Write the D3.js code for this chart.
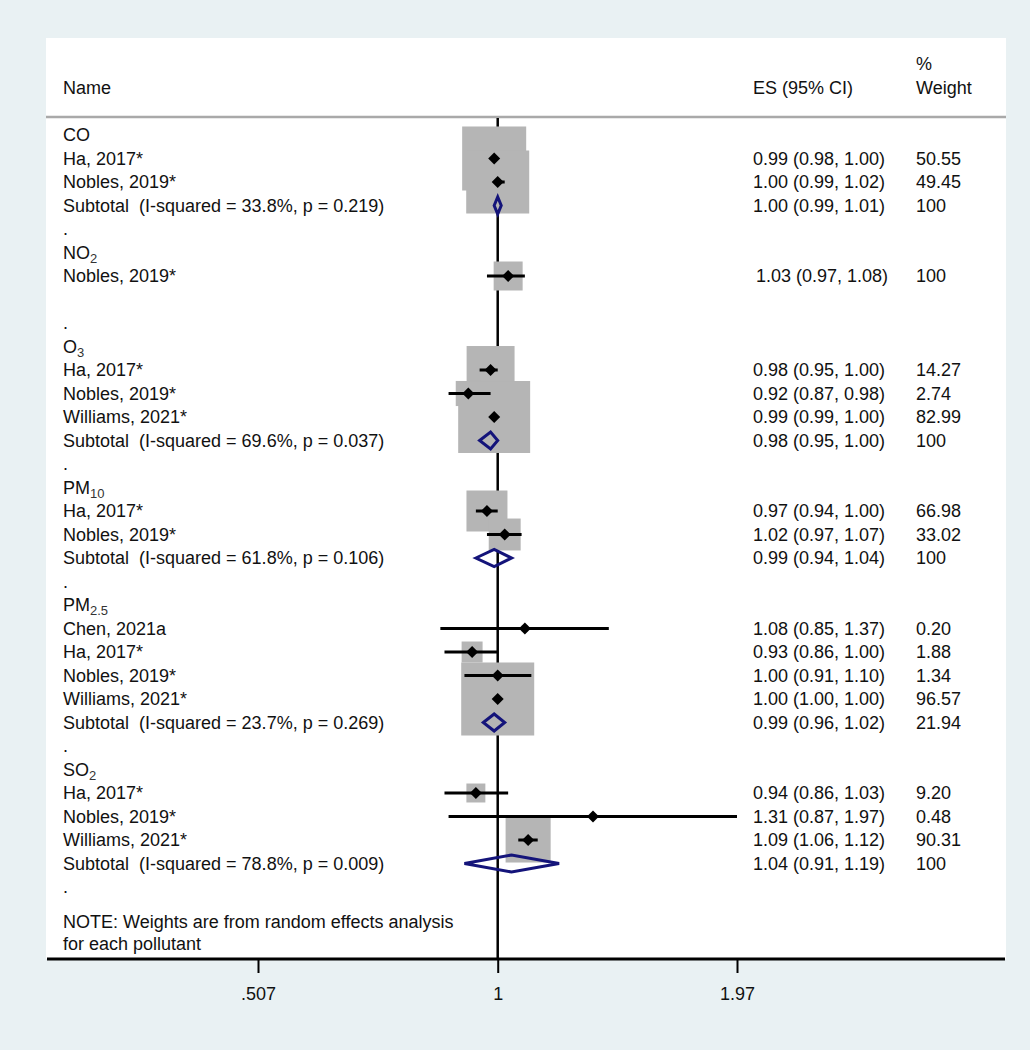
<!DOCTYPE html>
<html>
<head>
<meta charset="utf-8">
<script src="https://cdn.jsdelivr.net/npm/d3@7"></script>
<style>
  body { margin: 0; background: #e9f1f3; }
  svg { display: block; }
  text { font-family: 'Liberation Sans', Arial, sans-serif; font-size: 18px; fill: #111; white-space: pre; }
</style>
</head>
<body>
<div id="chart"></div>
<script>
// one entry per row of the plot, top to bottom
const rowKind = [
  'group', 'study', 'study', 'subtotal', 'dot',
  'group', 'study', 'blank', 'dot',
  'group', 'study', 'study', 'study', 'subtotal', 'dot',
  'group', 'study', 'study', 'subtotal', 'dot',
  'group', 'study', 'study', 'study', 'study', 'subtotal', 'dot',
  'group', 'study', 'study', 'study', 'subtotal', 'dot'
];
const rowLabel = [
  'CO', 'Ha, 2017*', 'Nobles, 2019*', 'Subtotal  (I-squared = 33.8%, p = 0.219)', '.',
  'NO', 'Nobles, 2019*', '', '.',
  'O', 'Ha, 2017*', 'Nobles, 2019*', 'Williams, 2021*', 'Subtotal  (I-squared = 69.6%, p = 0.037)', '.',
  'PM', 'Ha, 2017*', 'Nobles, 2019*', 'Subtotal  (I-squared = 61.8%, p = 0.106)', '.',
  'PM', 'Chen, 2021a', 'Ha, 2017*', 'Nobles, 2019*', 'Williams, 2021*', 'Subtotal  (I-squared = 23.7%, p = 0.269)', '.',
  'SO', 'Ha, 2017*', 'Nobles, 2019*', 'Williams, 2021*', 'Subtotal  (I-squared = 78.8%, p = 0.009)', '.'
];
const rowSub = [
  '', '', '', '', '',
  '2', '', '', '',
  '3', '', '', '', '', '',
  '10', '', '', '', '',
  '2.5', '', '', '', '', '', '',
  '2', '', '', '', '', ''
];
const rowEs = [
  null, 0.99, 1.00, 1.00, null,
  null, 1.03, null, null,
  null, 0.98, 0.92, 0.99, 0.98, null,
  null, 0.97, 1.02, 0.99, null,
  null, 1.08, 0.93, 1.00, 1.00, 0.99, null,
  null, 0.94, 1.31, 1.09, 1.04, null
];
const rowLo = [
  null, 0.98, 0.99, 0.99, null,
  null, 0.97, null, null,
  null, 0.95, 0.87, 0.99, 0.95, null,
  null, 0.94, 0.97, 0.94, null,
  null, 0.85, 0.86, 0.91, 1.00, 0.96, null,
  null, 0.86, 0.87, 1.06, 0.91, null
];
const rowHi = [
  null, 1.00, 1.02, 1.01, null,
  null, 1.08, null, null,
  null, 1.00, 0.98, 1.00, 1.00, null,
  null, 1.00, 1.07, 1.04, null,
  null, 1.37, 1.00, 1.10, 1.00, 1.02, null,
  null, 1.03, 1.97, 1.12, 1.19, null
];
// % weight as printed
const rowWeight = [
  '', '50.55', '49.45', '100', '',
  '', '100', '', '',
  '', '14.27', '2.74', '82.99', '100', '',
  '', '66.98', '33.02', '100', '',
  '', '0.20', '1.88', '1.34', '96.57', '21.94', '',
  '', '9.20', '0.48', '90.31', '100', ''
];
// weights behind the box areas (overall analysis)
const rowBoxWeight = [
  0, 41.0, 39.7, 0, 0,
  0, 8.4, 0, 0,
  0, 23.0, 6.3, 51.8, 0, 0,
  0, 16.8, 10.2, 0, 0,
  0, 0.4, 4.4, 2.5, 53.3, 0, 0,
  0, 3.6, 0.3, 20.3, 0, 0
];
const noteLines = ['NOTE: Weights are from random effects analysis', 'for each pollutant'];
const tickValues = [0.507, 1, 1.97];
const tickLabels = ['.507', '1', '1.97'];

const WIDTH = 1030;
const HEIGHT = 1050;
const PANEL = { left: 46, right: 1006, top: 38, bottom: 959 };
const NAME_X = 63;
const ES_X = 753;
const WT_X = 916;
const HEADER_LINE_Y = 117;
const AXIS_Y = 959;

const rows = rowKind.map((kind, i) => ({
  kind, label: rowLabel[i], sub: rowSub[i], es: rowEs[i], lo: rowLo[i], hi: rowHi[i],
  weight: rowWeight[i], boxWeight: rowBoxWeight[i], index: i
}));

const xScale = d3.scaleLog().domain([0.507, 1.97]).range([258, 737]);
const yScale = d3.scaleLinear().domain([0, rows.length - 1]).range([135, 135 + 23.5 * (rows.length - 1)]);
const boxScale = d3.scaleSqrt().domain([0, 100]).range([0, 100]);
const fmt = d3.format('.2f');

const svg = d3.create('svg').attr('width', WIDTH).attr('height', HEIGHT);

svg.append('rect')
  .attr('x', PANEL.left).attr('y', PANEL.top)
  .attr('width', PANEL.right - PANEL.left).attr('height', PANEL.bottom - PANEL.top)
  .attr('fill', '#fff');

// header
const head = svg.append('g');
head.append('text').attr('x', NAME_X).attr('y', 94).text('Name');
head.append('text').attr('x', ES_X).attr('y', 94).text('ES (95% CI)');
head.append('text').attr('x', WT_X).attr('y', 70).text('%');
head.append('text').attr('x', WT_X).attr('y', 94).text('Weight');
svg.append('line')
  .attr('x1', PANEL.left).attr('x2', PANEL.right)
  .attr('y1', HEADER_LINE_Y).attr('y2', HEADER_LINE_Y)
  .attr('stroke', '#a9a9a9').attr('stroke-width', 2.5);

// null line at 1
svg.append('line')
  .attr('x1', xScale(1)).attr('x2', xScale(1))
  .attr('y1', HEADER_LINE_Y + 1).attr('y2', AXIS_Y)
  .attr('stroke', '#000').attr('stroke-width', 2.5);

const studies = rows.filter((d) => d.kind === 'study');
const subtotals = rows.filter((d) => d.kind === 'subtotal');

svg.append('g')
  .selectAll('rect')
  .data(studies)
  .join('rect')
  .attr('x', (d) => xScale(d.es) - boxScale(d.boxWeight) / 2)
  .attr('y', (d) => yScale(d.index) - boxScale(d.boxWeight) / 2)
  .attr('width', (d) => boxScale(d.boxWeight))
  .attr('height', (d) => boxScale(d.boxWeight))
  .attr('fill', '#b5b5b5');

svg.append('g')
  .selectAll('line')
  .data(studies)
  .join('line')
  .attr('x1', (d) => xScale(d.lo))
  .attr('x2', (d) => xScale(d.hi))
  .attr('y1', (d) => yScale(d.index))
  .attr('y2', (d) => yScale(d.index))
  .attr('stroke', '#000')
  .attr('stroke-width', 3);

svg.append('g')
  .selectAll('path')
  .data(studies)
  .join('path')
  .attr('d', (d) => {
    const cx = xScale(d.es);
    const cy = yScale(d.index);
    return `M${cx - 6},${cy}L${cx},${cy - 6}L${cx + 6},${cy}L${cx},${cy + 6}Z`;
  })
  .attr('fill', '#000');

svg.append('g')
  .selectAll('path')
  .data(subtotals)
  .join('path')
  .attr('d', (d) => {
    const cy = yScale(d.index);
    return `M${xScale(d.lo)},${cy}L${xScale(d.es)},${cy - 8.5}L${xScale(d.hi)},${cy}L${xScale(d.es)},${cy + 8.5}Z`;
  })
  .attr('fill', 'none')
  .attr('stroke', '#14147a')
  .attr('stroke-width', 3)
  .attr('stroke-linejoin', 'miter');

// text columns
const labels = svg.append('g')
  .selectAll('text')
  .data(rows.filter((d) => d.label))
  .join('text')
  .attr('x', NAME_X)
  .attr('y', (d) => yScale(d.index) + 6)
  .text((d) => d.label);
labels.filter((d) => d.sub)
  .append('tspan')
  .attr('dy', 4)
  .style('font-size', '13px')
  .style('fill', '#333')
  .text((d) => d.sub);

svg.append('g')
  .selectAll('text')
  .data(rows.filter((d) => d.es !== null))
  .join('text')
  .attr('x', (d) => (rowLabel[d.index - 1] === 'NO' ? ES_X + 3 : ES_X))
  .attr('y', (d) => yScale(d.index) + 6)
  .text((d) => `${fmt(d.es)} (${fmt(d.lo)}, ${fmt(d.hi)})`);

svg.append('g')
  .selectAll('text')
  .data(rows.filter((d) => d.weight))
  .join('text')
  .attr('x', WT_X)
  .attr('y', (d) => yScale(d.index) + 6)
  .text((d) => d.weight);

svg.append('g')
  .selectAll('text')
  .data(noteLines)
  .join('text')
  .attr('x', NAME_X)
  .attr('y', (_, i) => 928 + i * 22)
  .text((d) => d);

// x axis
svg.append('line')
  .attr('x1', PANEL.left + 1).attr('x2', PANEL.right - 1)
  .attr('y1', AXIS_Y).attr('y2', AXIS_Y)
  .attr('stroke', '#000').attr('stroke-width', 3);

const axis = svg.append('g')
  .attr('transform', `translate(0, ${AXIS_Y})`)
  .call(d3.axisBottom(xScale).tickValues(tickValues).tickSize(14).tickPadding(14)
    .tickFormat((_, i) => tickLabels[i]));
axis.select('.domain').remove();
axis.selectAll('.tick line').attr('stroke', '#000').attr('stroke-width', 2);
axis.selectAll('.tick text')
  .style('font-family', "'Liberation Sans', Arial, sans-serif")
  .style('font-size', '18px')
  .attr('fill', '#111');

document.getElementById('chart').appendChild(svg.node());
</script>
</body>
</html>
